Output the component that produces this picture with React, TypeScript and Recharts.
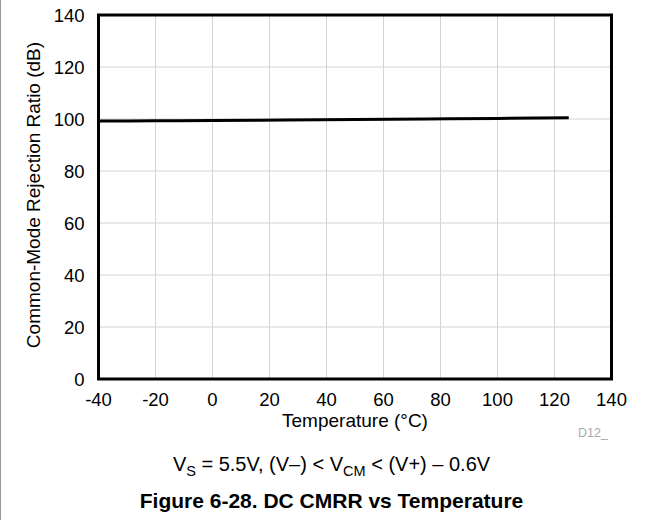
import React from "react";
import { LineChart, Line, XAxis, YAxis, CartesianGrid, ReferenceArea } from "recharts";

const temperatures = [-40, -20, 0, 25, 50, 75, 100, 125];
const cmrr = [99.2, 99.3, 99.4, 99.6, 99.8, 100.0, 100.2, 100.5];
const xTicks = [-40, -20, 0, 20, 40, 60, 80, 100, 120, 140];
const yTicks = [0, 20, 40, 60, 80, 100, 120, 140];

const data = temperatures.map((t, i) => ({ t, v: cmrr[i] }));

const FONT = "'Liberation Sans', Arial, sans-serif";
const TICK_SIZE = 18.5;

export default function App() {
  return (
    <div style={{ position: "absolute", left: 0, top: 0, width: 663, height: 520, background: "#fff", fontFamily: FONT, overflow: "hidden" }}>
      <div style={{ position: "absolute", left: 0, top: 0, width: 1, height: 520, background: "#9a9a9a" }} />
      <LineChart width={663} height={520} data={data} margin={{ top: 15, right: 51.5, left: 0, bottom: 91 }}>
        <CartesianGrid stroke="#d4d4d4" strokeWidth={1} />
        <XAxis
          dataKey="t"
          type="number"
          domain={[-40, 140]}
          ticks={xTicks}
          height={50}
          axisLine={false}
          tickLine={false}
          tick={{ fill: "#000", fontSize: TICK_SIZE, fontFamily: FONT }}
          tickMargin={8}
        />
        <YAxis
          type="number"
          domain={[0, 140]}
          ticks={yTicks}
          width={98.5}
          axisLine={false}
          tickLine={false}
          tick={{ fill: "#000", fontSize: TICK_SIZE, fontFamily: FONT }}
          tickMargin={8}
        />
        <ReferenceArea x1={-40} x2={140} y1={0} y2={140} fill="none" stroke="#000" strokeWidth={3} ifOverflow="visible" />
        <Line type="monotone" dataKey="v" stroke="#000" strokeWidth={3} dot={false} isAnimationActive={false} />
      </LineChart>
      <div style={{ position: "absolute", left: 34, top: 195, width: 0, height: 0 }}>
        <div style={{ position: "absolute", left: -200, top: -11, width: 400, textAlign: "center", fontSize: 19, lineHeight: "22px", color: "#000", transform: "rotate(-90deg)", whiteSpace: "nowrap" }}>
          Common-Mode Rejection Ratio (dB)
        </div>
      </div>
      <div style={{ position: "absolute", left: 155, width: 400, top: 410, textAlign: "center", fontSize: 19, lineHeight: "22px", color: "#000" }}>
        Temperature (°C)
      </div>
      <div style={{ position: "absolute", left: 578, top: 426, fontSize: 12.5, color: "#aaa" }}>D12_</div>
      <div style={{ position: "absolute", left: 0, width: 663, top: 452, textAlign: "center", fontSize: 20, lineHeight: "24px", color: "#000" }}>
        V<sub style={{ fontSize: 14.5, verticalAlign: "-5px", lineHeight: 0 }}>S</sub> = 5.5V, (V–) &lt; V<sub style={{ fontSize: 14.5, verticalAlign: "-5px", lineHeight: 0 }}>CM</sub> &lt; (V+) – 0.6V
      </div>
      <div style={{ position: "absolute", left: 0, width: 663, top: 489, textAlign: "center", fontSize: 21, lineHeight: "24px", fontWeight: "bold", color: "#000" }}>
        Figure 6-28. DC CMRR vs Temperature
      </div>
    </div>
  );
}
